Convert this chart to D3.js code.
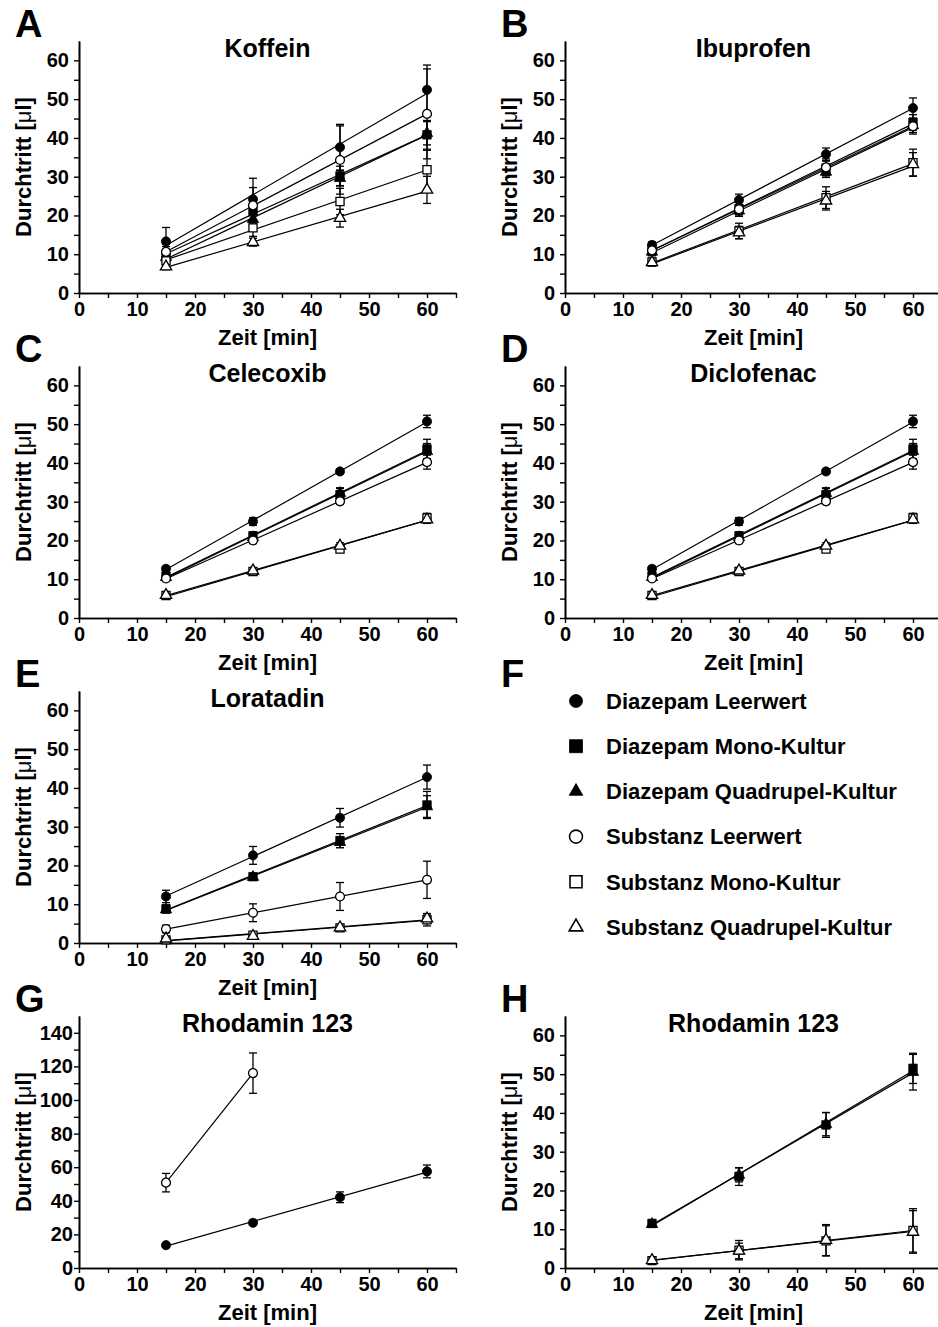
<!DOCTYPE html>
<html>
<head>
<meta charset="utf-8">
<script src="https://cdn.jsdelivr.net/npm/d3@7"></script>
<style>
body { margin: 0; background: #fff; }
text { font-family: "Liberation Sans", Arial, sans-serif; font-weight: bold; fill: #000; }
</style>
</head>
<body>
<div id="chart"></div>
<script>
// Global Variables

//Width and height
var w = 938;
var h = 1327;

// Sampling times and axis ticks
var times = [15, 30, 45, 60];
var xTicks = [0, 10, 20, 30, 40, 50, 60];
var xMinor = [5, 15, 25, 35, 45, 55, 65];
var yTicks = [0, 10, 20, 30, 40, 50, 60];
var yMinor = [5, 15, 25, 35, 45, 55];
var yTicksRho = [0, 20, 40, 60, 80, 100, 120, 140];
var yMinorRho = [10, 30, 50, 70, 90, 110, 130];

// Series order: Diazepam Leerwert, Diazepam Mono, Diazepam Quadrupel,
// Substanz Leerwert, Substanz Mono, Substanz Quadrupel
var seriesNames = [
	"Diazepam Leerwert",
	"Diazepam Mono-Kultur",
	"Diazepam Quadrupel-Kultur",
	"Substanz Leerwert",
	"Substanz Mono-Kultur",
	"Substanz Quadrupel-Kultur"
];

var koffeinMean = [
	[13.3, 24.2, 37.6, 52.4],
	[9.8, 21.0, 30.2, 40.8],
	[9.2, 19.0, 29.6, 41.2],
	[10.6, 22.6, 34.3, 46.2],
	[8.3, 16.8, 23.6, 31.8],
	[6.8, 13.1, 19.3, 26.6]
];
var koffeinErr = [
	[3.6, 5.4, 5.9, 6.4],
	[2.2, 2.8, 2.5, 3.7],
	[1.8, 2.4, 2.0, 3.0],
	[2.0, 4.6, 8.8, 11.6],
	[1.4, 2.2, 3.4, 5.0],
	[0.8, 1.0, 2.3, 3.5]
];

var ibuprofenMean = [
	[12.4, 24.0, 35.8, 47.7],
	[11.2, 21.8, 32.2, 44.0],
	[10.6, 21.2, 31.2, 43.2],
	[11.0, 21.6, 32.4, 43.0],
	[8.0, 16.0, 24.6, 33.6],
	[7.9, 15.6, 23.8, 33.2]
];
var ibuprofenErr = [
	[0.8, 1.5, 1.6, 2.6],
	[1.0, 1.6, 1.8, 2.0],
	[1.0, 1.4, 1.4, 1.8],
	[1.2, 1.8, 2.2, 2.0],
	[1.0, 2.0, 2.8, 3.5],
	[0.8, 1.6, 2.4, 3.0]
];

var celecoxibMean = [
	[12.7, 24.9, 37.8, 50.7],
	[10.8, 21.2, 31.8, 43.6],
	[10.5, 20.8, 32.2, 43.0],
	[10.2, 20.0, 30.1, 40.2],
	[5.8, 12.0, 17.8, 25.8],
	[5.9, 12.2, 18.6, 25.4]
];
var celecoxibErr = [
	[0.6, 1.0, 0.6, 1.6],
	[0.6, 1.0, 1.8, 2.5],
	[0.5, 0.8, 1.2, 2.0],
	[0.5, 0.8, 0.8, 1.8],
	[0.5, 0.6, 0.8, 1.2],
	[0.4, 0.6, 0.8, 1.0]
];

var diclofenacMean = [
	[12.7, 24.9, 37.8, 50.7],
	[10.8, 21.2, 31.8, 43.6],
	[10.5, 20.8, 32.2, 43.0],
	[10.2, 20.0, 30.1, 40.2],
	[5.8, 12.0, 17.8, 25.8],
	[5.9, 12.2, 18.6, 25.4]
];
var diclofenacErr = [
	[0.6, 1.0, 0.6, 1.6],
	[0.6, 1.0, 1.8, 2.5],
	[0.5, 0.8, 1.2, 2.0],
	[0.5, 0.8, 0.8, 1.8],
	[0.5, 0.6, 0.8, 1.2],
	[0.4, 0.6, 0.8, 1.0]
];

var loratadinMean = [
	[12.0, 22.6, 32.3, 42.8],
	[8.8, 17.1, 26.4, 35.6],
	[8.6, 17.0, 26.0, 35.2],
	[3.6, 7.8, 12.0, 16.3],
	[0.8, 2.0, 3.9, 6.0],
	[1.1, 1.8, 4.0, 6.3]
];
var loratadinErr = [
	[1.6, 2.3, 2.4, 3.1],
	[1.0, 0.8, 1.8, 3.5],
	[0.8, 0.8, 1.4, 2.8],
	[1.0, 2.3, 3.6, 4.8],
	[0.6, 0.5, 0.6, 1.6],
	[0.5, 0.4, 0.5, 1.2]
];

// Rhodamin 123, Leerwerte only (G)
var rhodaminLeerMean = [
	[13.6, 26.9, 42.1, 57.5],
	null,
	null,
	[50.8, 116.0, null, null],
	null,
	null
];
var rhodaminLeerErr = [
	[1.0, 1.5, 3.2, 3.8],
	null,
	null,
	[5.5, 12.0, null, null],
	null,
	null
];

// Rhodamin 123, cultures only (H)
var rhodaminKulturMean = [
	null,
	[11.5, 23.6, 36.9, 51.5],
	[11.3, 24.0, 37.1, 50.5],
	null,
	[1.9, 4.6, 7.0, 9.7],
	[2.0, 4.4, 7.2, 9.3]
];
var rhodaminKulturErr = [
	null,
	[0.8, 2.3, 3.2, 3.9],
	[0.6, 1.8, 3.0, 4.6],
	null,
	[0.5, 2.5, 3.9, 5.6],
	[0.4, 2.0, 4.0, 5.5]
];

// Panel grid
var colX = [79, 565];
var rowBottom = 293;
var rowStep = 325;
var plotW = 377;
var plotH = 252;

var panels = [
	{ letter: "A", title: "Koffein", col: 0, row: 0, mean: koffeinMean, err: koffeinErr, yMax: 65, ticks: yTicks, minor: yMinor, pad: 5 },
	{ letter: "B", title: "Ibuprofen", col: 1, row: 0, mean: ibuprofenMean, err: ibuprofenErr, yMax: 65, ticks: yTicks, minor: yMinor, pad: 5 },
	{ letter: "C", title: "Celecoxib", col: 0, row: 1, mean: celecoxibMean, err: celecoxibErr, yMax: 65, ticks: yTicks, minor: yMinor, pad: 5 },
	{ letter: "D", title: "Diclofenac", col: 1, row: 1, mean: diclofenacMean, err: diclofenacErr, yMax: 65, ticks: yTicks, minor: yMinor, pad: 5 },
	{ letter: "E", title: "Loratadin", col: 0, row: 2, mean: loratadinMean, err: loratadinErr, yMax: 65, ticks: yTicks, minor: yMinor, pad: 5 },
	{ letter: "G", title: "Rhodamin 123", col: 0, row: 3, mean: rhodaminLeerMean, err: rhodaminLeerErr, yMax: 150, ticks: yTicksRho, minor: yMinorRho, pad: 1 },
	{ letter: "H", title: "Rhodamin 123", col: 1, row: 3, mean: rhodaminKulturMean, err: rhodaminKulturErr, yMax: 65, ticks: yTicks, minor: yMinor, pad: 5 }
];

// Marker shapes per series
var shapes = [d3.symbolCircle, d3.symbolSquare, d3.symbolTriangle, d3.symbolCircle, d3.symbolSquare, d3.symbolTriangle];
var filled = [true, true, true, false, false, false];
var plotSizes = [66, 72, 56, 62, 66, 56];

//Create SVG element
var svg = d3.select("#chart")
			.append("svg")
			.attr("width", w)
			.attr("height", h);

svg.append("rect")
	.attr("width", w)
	.attr("height", h)
	.attr("fill", "#fff");

// Least squares line through the points of one series
function fitLine(ys) {
	var pts = [];
	ys.forEach(function(v, i) {
		if (v !== null) pts.push([times[i], v]);
	});
	var mx = d3.mean(pts, function(p) { return p[0]; });
	var my = d3.mean(pts, function(p) { return p[1]; });
	var sxy = d3.sum(pts, function(p) { return (p[0] - mx) * (p[1] - my); });
	var sxx = d3.sum(pts, function(p) { return (p[0] - mx) * (p[0] - mx); });
	var b = sxy / sxx;
	var a = my - b * mx;
	var x0 = pts[0][0], x1 = pts[pts.length - 1][0];
	return [[x0, a + b * x0], [x1, a + b * x1]];
}

function styleAxis(g) {
	g.select(".domain").attr("stroke", "#000").attr("stroke-width", 1.6);
	g.selectAll(".tick line").attr("stroke", "#000").attr("stroke-width", 1.4);
	g.selectAll("text")
		.attr("font-family", "Liberation Sans, Arial, sans-serif")
		.attr("font-weight", "bold")
		.attr("font-size", 20);
	g.attr("font-family", null).attr("font-size", null);
}

panels.forEach(function(p) {
	var x0 = colX[p.col];
	var bottom = rowBottom + p.row * rowStep;
	var top = bottom - plotH;

	var xScale = d3.scaleLinear().domain([0, 65]).range([x0, x0 + plotW]);
	var yScale = d3.scaleLinear().domain([0, p.yMax]).range([bottom, top]);

	var g = svg.append("g");

	// minor ticks first, then labelled axes
	g.append("g")
		.attr("transform", "translate(0," + bottom + ")")
		.call(d3.axisBottom(xScale).tickValues(xMinor).tickSize(5).tickSizeOuter(0).tickFormat(""))
		.call(styleAxis);
	g.append("g")
		.attr("transform", "translate(" + x0 + ",0)")
		.call(d3.axisLeft(yScale).tickValues(p.minor).tickSize(5).tickSizeOuter(0).tickFormat(""))
		.call(styleAxis);
	g.append("g")
		.attr("transform", "translate(0," + bottom + ")")
		.call(d3.axisBottom(xScale).tickValues(xTicks).tickSize(5).tickPadding(4).tickSizeOuter(0))
		.call(styleAxis);
	g.append("g")
		.attr("transform", "translate(" + x0 + ",0)")
		.call(d3.axisLeft(yScale).tickValues(p.ticks).tickSize(5).tickPadding(p.pad).tickSizeOuter(0))
		.call(styleAxis);

	// Titles and labels
	g.append("text")
		.attr("x", x0 - 64)
		.attr("y", bottom - 256)
		.attr("font-size", 38)
		.text(p.letter);
	g.append("text")
		.attr("x", x0 + plotW / 2)
		.attr("y", bottom - 236)
		.attr("text-anchor", "middle")
		.attr("font-size", 25)
		.text(p.title);
	g.append("text")
		.attr("x", x0 + plotW / 2)
		.attr("y", bottom + 52)
		.attr("text-anchor", "middle")
		.attr("font-size", 22)
		.text("Zeit [min]");
	var yl = g.append("text")
		.attr("transform", "translate(" + (x0 - 56) + "," + (bottom - plotH / 2) + ") rotate(-90)")
		.attr("text-anchor", "middle")
		.attr("dy", "0.35em")
		.attr("font-size", 22);
	yl.append("tspan").text("Durchtritt [");
	yl.append("tspan").attr("font-weight", "normal").text("\u03bc");
	yl.append("tspan").text("l]");

	var active = [];
	p.mean.forEach(function(ys, i) {
		if (ys) active.push(i);
	});

	// Regression lines
	active.forEach(function(i) {
		var pts = fitLine(p.mean[i]);
		g.append("line")
			.attr("x1", xScale(pts[0][0]))
			.attr("y1", yScale(pts[0][1]))
			.attr("x2", xScale(pts[1][0]))
			.attr("y2", yScale(pts[1][1]))
			.attr("stroke", "#000")
			.attr("stroke-width", 1.2);
	});

	// Error bars
	active.forEach(function(i) {
		p.mean[i].forEach(function(v, j) {
			if (v === null) return;
			var e = p.err[i][j];
			var cx = xScale(times[j]);
			g.append("line")
				.attr("x1", cx).attr("x2", cx)
				.attr("y1", yScale(v - e)).attr("y2", yScale(v + e))
				.attr("stroke", "#000").attr("stroke-width", 1.3);
			[v - e, v + e].forEach(function(c) {
				g.append("line")
					.attr("x1", cx - 4).attr("x2", cx + 4)
					.attr("y1", yScale(c)).attr("y2", yScale(c))
					.attr("stroke", "#000").attr("stroke-width", 1.3);
			});
		});
	});

	// Markers
	active.forEach(function(i) {
		var pts = [];
		p.mean[i].forEach(function(v, j) {
			if (v !== null) pts.push([times[j], v]);
		});
		g.selectAll(null)
			.data(pts)
			.enter()
			.append("path")
			.attr("transform", function(d) {
				return "translate(" + xScale(d[0]) + "," + yScale(d[1]) + ")";
			})
			.attr("d", d3.symbol().type(shapes[i]).size(plotSizes[i]))
			.attr("fill", filled[i] ? "#000" : "#fff")
			.attr("stroke", "#000")
			.attr("stroke-width", filled[i] ? 0.8 : 1.3);
	});
});

// Legend panel F
var legendX = colX[1];
var legendBottom = rowBottom + 2 * rowStep;
var legendSizes = [133, 169, 80, 133, 144, 80];

svg.append("text")
	.attr("x", legendX - 64)
	.attr("y", legendBottom - 256)
	.attr("font-size", 38)
	.text("F");

var legend = svg.selectAll(".legend")
	.data(seriesNames)
	.enter()
	.append("g")
	.attr("class", "legend")
	.attr("transform", function(d, i) {
		return "translate(" + legendX + "," + (legendBottom - 242 + i * 45.2) + ")";
	});

legend.append("path")
	.attr("transform", "translate(11,0)")
	.attr("d", function(d, i) {
		return d3.symbol().type(shapes[i]).size(legendSizes[i])();
	})
	.attr("fill", function(d, i) { return filled[i] ? "#000" : "#fff"; })
	.attr("stroke", "#000")
	.attr("stroke-width", function(d, i) { return filled[i] ? 0.8 : 1.6; });

legend.append("text")
	.attr("x", 41)
	.attr("dy", "0.35em")
	.attr("font-size", 22)
	.text(function(d) { return d; });
</script>
</body>
</html>
